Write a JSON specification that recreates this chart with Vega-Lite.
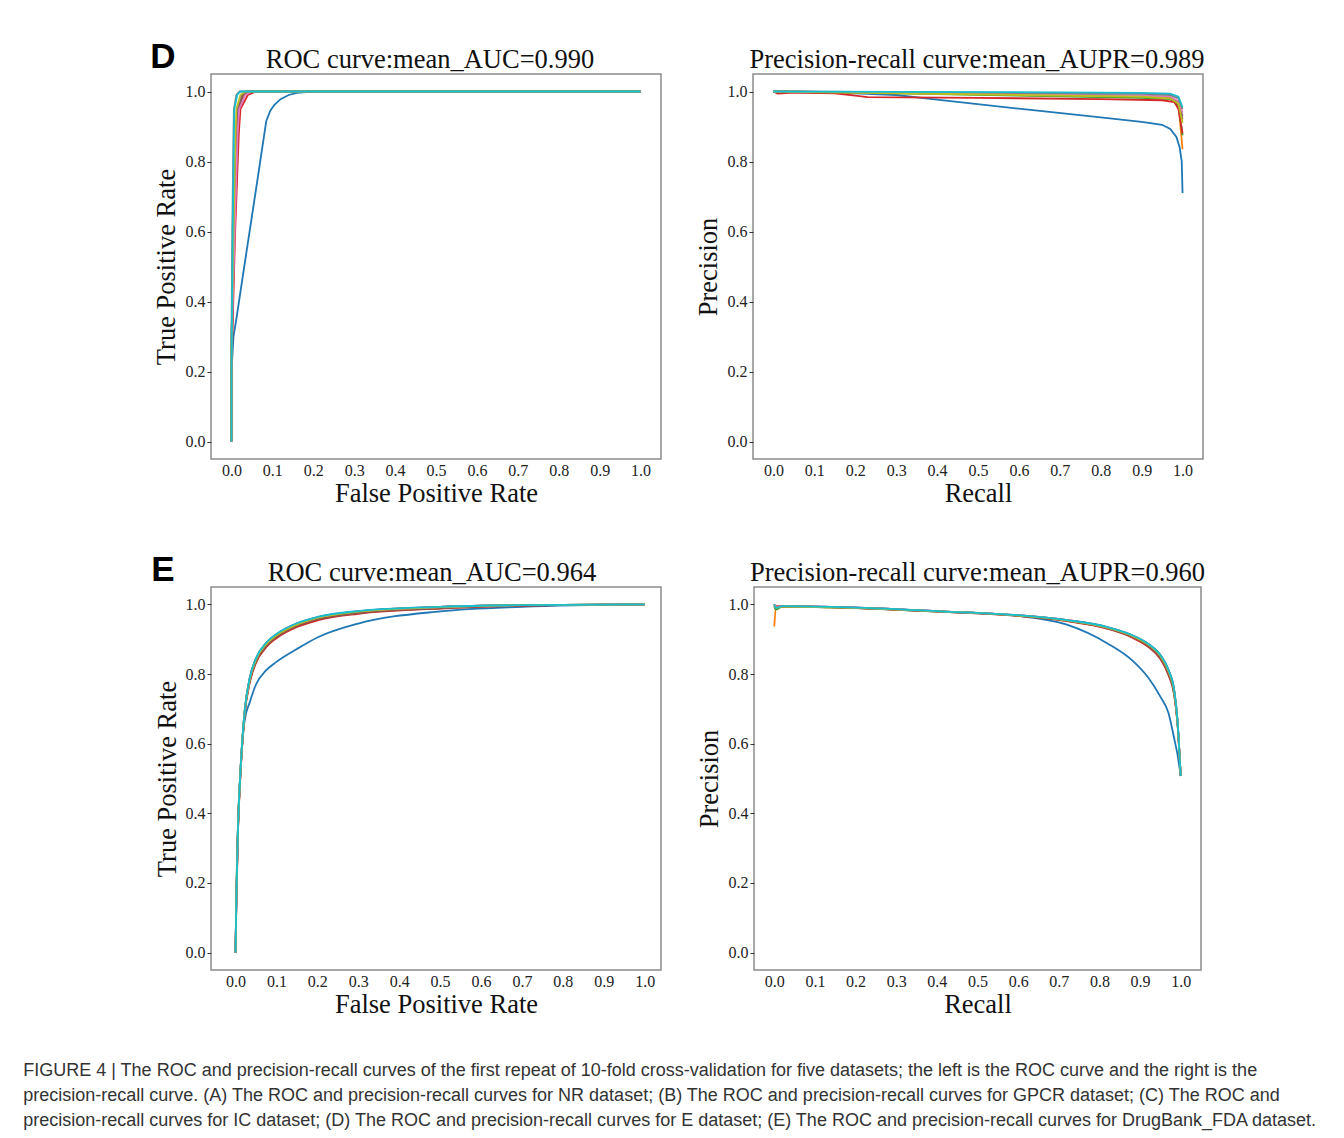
{
  "$schema": "https://vega.github.io/schema/vega-lite/v6.json",
  "padding": {"left": 23, "top": 39, "right": 8, "bottom": 4},
  "background": "white",
  "config": {
    "view": {"stroke": "#8c8c8c", "strokeWidth": 1.5},
    "font": "Liberation Serif",
    "style": {"guide-label": {"font": "Liberation Serif", "fontSize": 16}, "guide-title": {"font": "Liberation Serif", "fontSize": 26.5}},
    "axis": {"grid": false, "domain": false, "labelFont": "Liberation Serif", "labelFontSize": 16, "labelColor": "#222", "titleFont": "Liberation Serif", "titleFontSize": 26.5, "titleFontWeight": "normal", "titleColor": "#111", "tickColor": "#333", "tickSize": 4},
    "axisX": {"ticks": false, "labelPadding": 3, "titlePadding": 2, "labelAngle": 0},
    "axisY": {"labelPadding": 2, "titlePadding": 5},
    "title": {"font": "Liberation Serif", "fontSize": 26.5, "fontWeight": "normal", "color": "#111", "offset": 1},
    "line": {"strokeWidth": 1.8}
  },
  "title": {
    "text": [
      "FIGURE 4 | The ROC and precision-recall curves of the first repeat of 10-fold cross-validation for five datasets; the left is the ROC curve and the right is the",
      "precision-recall curve. (A) The ROC and precision-recall curves for NR dataset; (B) The ROC and precision-recall curves for GPCR dataset; (C) The ROC and",
      "precision-recall curves for IC dataset; (D) The ROC and precision-recall curves for E dataset; (E) The ROC and precision-recall curves for DrugBank_FDA dataset."
    ],
    "orient": "bottom", "anchor": "start", "frame": "bounds",
    "font": "Liberation Sans", "fontSize": 18, "fontWeight": "normal", "color": "#333",
    "lineHeight": 25, "offset": 44, "dx": -127
  },
  "datasets": {
    "dl": [
      {"f":0,"x":0,"y":0},{"f":0,"x":0,"y":0.2},{"f":0,"x":0.005,"y":0.3},{"f":0,"x":0.012,"y":0.35},{"f":0,"x":0.03,"y":0.49},{"f":0,"x":0.06,"y":0.72},{"f":0,"x":0.085,"y":0.915},{"f":0,"x":0.095,"y":0.945},{"f":0,"x":0.105,"y":0.962},{"f":0,"x":0.12,"y":0.978},{"f":0,"x":0.14,"y":0.99},{"f":0,"x":0.16,"y":0.996},{"f":0,"x":0.19,"y":0.999},{"f":0,"x":0.22,"y":1},{"f":0,"x":1,"y":1},
      {"f":1,"x":0,"y":0},{"f":1,"x":0,"y":0.25},{"f":1,"x":0.007,"y":0.6},{"f":1,"x":0.014,"y":0.88},{"f":1,"x":0.018,"y":0.95},{"f":1,"x":0.031,"y":0.99},{"f":1,"x":0.045,"y":1},{"f":1,"x":1,"y":1},
      {"f":2,"x":0,"y":0},{"f":2,"x":0,"y":0.28},{"f":2,"x":0.006,"y":0.6},{"f":2,"x":0.013,"y":0.88},{"f":2,"x":0.016,"y":0.95},{"f":2,"x":0.028,"y":0.99},{"f":2,"x":0.04,"y":1},{"f":2,"x":1,"y":1},
      {"f":3,"x":0,"y":0},{"f":3,"x":0,"y":0.2},{"f":3,"x":0.009,"y":0.6},{"f":3,"x":0.018,"y":0.88},{"f":3,"x":0.022,"y":0.95},{"f":3,"x":0.04,"y":0.99},{"f":3,"x":0.06,"y":1},{"f":3,"x":1,"y":1},
      {"f":4,"x":0,"y":0},{"f":4,"x":0,"y":0.3},{"f":4,"x":0.006,"y":0.6},{"f":4,"x":0.012,"y":0.88},{"f":4,"x":0.015,"y":0.95},{"f":4,"x":0.025,"y":0.99},{"f":4,"x":0.035,"y":1},{"f":4,"x":1,"y":1},
      {"f":5,"x":0,"y":0},{"f":5,"x":0,"y":0.22},{"f":5,"x":0.007,"y":0.6},{"f":5,"x":0.014,"y":0.88},{"f":5,"x":0.017,"y":0.95},{"f":5,"x":0.028,"y":0.99},{"f":5,"x":0.04,"y":1},{"f":5,"x":1,"y":1},
      {"f":6,"x":0,"y":0},{"f":6,"x":0,"y":0.26},{"f":6,"x":0.008,"y":0.6},{"f":6,"x":0.015,"y":0.88},{"f":6,"x":0.019,"y":0.95},{"f":6,"x":0.034,"y":0.99},{"f":6,"x":0.05,"y":1},{"f":6,"x":1,"y":1},
      {"f":7,"x":0,"y":0},{"f":7,"x":0,"y":0.3},{"f":7,"x":0.002,"y":0.6},{"f":7,"x":0.005,"y":0.88},{"f":7,"x":0.006,"y":0.95},{"f":7,"x":0.012,"y":0.99},{"f":7,"x":0.02,"y":1},{"f":7,"x":1,"y":1},
      {"f":8,"x":0,"y":0},{"f":8,"x":0,"y":0.27},{"f":8,"x":0.005,"y":0.6},{"f":8,"x":0.01,"y":0.88},{"f":8,"x":0.012,"y":0.95},{"f":8,"x":0.022,"y":0.99},{"f":8,"x":0.035,"y":1},{"f":8,"x":1,"y":1},
      {"f":9,"x":0,"y":0},{"f":9,"x":0,"y":0.2},{"f":9,"x":0.003,"y":0.6},{"f":9,"x":0.006,"y":0.88},{"f":9,"x":0.007,"y":0.95},{"f":9,"x":0.014,"y":0.99},{"f":9,"x":0.022,"y":1},{"f":9,"x":1,"y":1}
    ],
    "dr": [
      {"f":0,"x":0,"y":1},{"f":0,"x":0.2,"y":0.995},{"f":0,"x":0.3,"y":0.99},{"f":0,"x":0.4,"y":0.977},{"f":0,"x":0.6,"y":0.951},{"f":0,"x":0.8,"y":0.926},{"f":0,"x":0.9,"y":0.913},{"f":0,"x":0.95,"y":0.905},{"f":0,"x":0.97,"y":0.893},{"f":0,"x":0.985,"y":0.87},{"f":0,"x":0.993,"y":0.84},{"f":0,"x":0.998,"y":0.8},{"f":0,"x":1,"y":0.71},
      {"f":1,"x":0,"y":1},{"f":1,"x":0.3,"y":0.996},{"f":1,"x":0.6,"y":0.99},{"f":1,"x":0.9,"y":0.984},{"f":1,"x":0.97,"y":0.98},{"f":1,"x":0.99,"y":0.965},{"f":1,"x":1,"y":0.835},
      {"f":2,"x":0,"y":1},{"f":2,"x":0.3,"y":0.995},{"f":2,"x":0.6,"y":0.988},{"f":2,"x":0.9,"y":0.982},{"f":2,"x":0.97,"y":0.978},{"f":2,"x":0.99,"y":0.96},{"f":2,"x":1,"y":0.875},
      {"f":3,"x":0,"y":1},{"f":3,"x":0.01,"y":0.994},{"f":3,"x":0.05,"y":0.997},{"f":3,"x":0.15,"y":0.995},{"f":3,"x":0.2,"y":0.988},{"f":3,"x":0.23,"y":0.984},{"f":3,"x":0.5,"y":0.982},{"f":3,"x":0.8,"y":0.978},{"f":3,"x":0.95,"y":0.975},{"f":3,"x":0.98,"y":0.97},{"f":3,"x":0.99,"y":0.95},{"f":3,"x":1,"y":0.88},
      {"f":4,"x":0,"y":1},{"f":4,"x":0.3,"y":0.997},{"f":4,"x":0.6,"y":0.993},{"f":4,"x":0.9,"y":0.988},{"f":4,"x":0.97,"y":0.984},{"f":4,"x":0.99,"y":0.97},{"f":4,"x":1,"y":0.93},
      {"f":5,"x":0,"y":1},{"f":5,"x":0.3,"y":0.996},{"f":5,"x":0.6,"y":0.991},{"f":5,"x":0.9,"y":0.987},{"f":5,"x":0.97,"y":0.983},{"f":5,"x":0.99,"y":0.968},{"f":5,"x":1,"y":0.92},
      {"f":6,"x":0,"y":1},{"f":6,"x":0.3,"y":0.997},{"f":6,"x":0.6,"y":0.992},{"f":6,"x":0.9,"y":0.988},{"f":6,"x":0.97,"y":0.985},{"f":6,"x":0.99,"y":0.972},{"f":6,"x":1,"y":0.94},
      {"f":7,"x":0,"y":1},{"f":7,"x":0.3,"y":0.998},{"f":7,"x":0.6,"y":0.996},{"f":7,"x":0.9,"y":0.993},{"f":7,"x":0.97,"y":0.99},{"f":7,"x":0.99,"y":0.98},{"f":7,"x":1,"y":0.95},
      {"f":8,"x":0,"y":1},{"f":8,"x":0.3,"y":0.995},{"f":8,"x":0.6,"y":0.99},{"f":8,"x":0.9,"y":0.985},{"f":8,"x":0.97,"y":0.98},{"f":8,"x":0.99,"y":0.965},{"f":8,"x":1,"y":0.91},
      {"f":9,"x":0,"y":1},{"f":9,"x":0.3,"y":0.999},{"f":9,"x":0.6,"y":0.998},{"f":9,"x":0.9,"y":0.996},{"f":9,"x":0.97,"y":0.994},{"f":9,"x":0.99,"y":0.985},{"f":9,"x":1,"y":0.955}
    ],
    "el": [
      {"f":0,"x":0,"y":0},{"f":0,"x":0.002,"y":0.16},{"f":0,"x":0.006,"y":0.36},{"f":0,"x":0.012,"y":0.52},{"f":0,"x":0.022,"y":0.665},{"f":0,"x":0.035,"y":0.72},{"f":0,"x":0.05,"y":0.77},{"f":0,"x":0.075,"y":0.811},{"f":0,"x":0.1,"y":0.835},{"f":0,"x":0.15,"y":0.872},{"f":0,"x":0.2,"y":0.905},{"f":0,"x":0.3,"y":0.945},{"f":0,"x":0.5,"y":0.98},{"f":0,"x":0.7,"y":0.993},{"f":0,"x":1,"y":1},
      {"f":1,"x":0,"y":0},{"f":1,"x":0.002,"y":0.15},{"f":1,"x":0.006,"y":0.35},{"f":1,"x":0.012,"y":0.515},{"f":1,"x":0.022,"y":0.685},{"f":1,"x":0.035,"y":0.785},{"f":1,"x":0.05,"y":0.84},{"f":1,"x":0.075,"y":0.886},{"f":1,"x":0.1,"y":0.912},{"f":1,"x":0.15,"y":0.943},{"f":1,"x":0.2,"y":0.962},{"f":1,"x":0.3,"y":0.979},{"f":1,"x":0.5,"y":0.992},{"f":1,"x":0.7,"y":0.998},{"f":1,"x":1,"y":1},
      {"f":2,"x":0,"y":0},{"f":2,"x":0.002,"y":0.17},{"f":2,"x":0.006,"y":0.37},{"f":2,"x":0.012,"y":0.525},{"f":2,"x":0.022,"y":0.69},{"f":2,"x":0.035,"y":0.79},{"f":2,"x":0.05,"y":0.843},{"f":2,"x":0.075,"y":0.888},{"f":2,"x":0.1,"y":0.913},{"f":2,"x":0.15,"y":0.944},{"f":2,"x":0.2,"y":0.962},{"f":2,"x":0.3,"y":0.98},{"f":2,"x":0.5,"y":0.992},{"f":2,"x":0.7,"y":0.998},{"f":2,"x":1,"y":1},
      {"f":3,"x":0,"y":0},{"f":3,"x":0.002,"y":0.15},{"f":3,"x":0.006,"y":0.35},{"f":3,"x":0.012,"y":0.51},{"f":3,"x":0.022,"y":0.68},{"f":3,"x":0.035,"y":0.777},{"f":3,"x":0.05,"y":0.832},{"f":3,"x":0.075,"y":0.877},{"f":3,"x":0.1,"y":0.903},{"f":3,"x":0.15,"y":0.935},{"f":3,"x":0.2,"y":0.954},{"f":3,"x":0.3,"y":0.973},{"f":3,"x":0.5,"y":0.988},{"f":3,"x":0.7,"y":0.996},{"f":3,"x":1,"y":1},
      {"f":4,"x":0,"y":0},{"f":4,"x":0.002,"y":0.16},{"f":4,"x":0.006,"y":0.36},{"f":4,"x":0.012,"y":0.52},{"f":4,"x":0.022,"y":0.688},{"f":4,"x":0.035,"y":0.788},{"f":4,"x":0.05,"y":0.843},{"f":4,"x":0.075,"y":0.888},{"f":4,"x":0.1,"y":0.914},{"f":4,"x":0.15,"y":0.945},{"f":4,"x":0.2,"y":0.963},{"f":4,"x":0.3,"y":0.98},{"f":4,"x":0.5,"y":0.993},{"f":4,"x":0.7,"y":0.998},{"f":4,"x":1,"y":1},
      {"f":5,"x":0,"y":0},{"f":5,"x":0.002,"y":0.155},{"f":5,"x":0.006,"y":0.355},{"f":5,"x":0.012,"y":0.512},{"f":5,"x":0.022,"y":0.682},{"f":5,"x":0.035,"y":0.78},{"f":5,"x":0.05,"y":0.835},{"f":5,"x":0.075,"y":0.88},{"f":5,"x":0.1,"y":0.906},{"f":5,"x":0.15,"y":0.938},{"f":5,"x":0.2,"y":0.957},{"f":5,"x":0.3,"y":0.975},{"f":5,"x":0.5,"y":0.989},{"f":5,"x":0.7,"y":0.997},{"f":5,"x":1,"y":1},
      {"f":6,"x":0,"y":0},{"f":6,"x":0.002,"y":0.16},{"f":6,"x":0.006,"y":0.36},{"f":6,"x":0.012,"y":0.52},{"f":6,"x":0.022,"y":0.69},{"f":6,"x":0.035,"y":0.789},{"f":6,"x":0.05,"y":0.844},{"f":6,"x":0.075,"y":0.889},{"f":6,"x":0.1,"y":0.914},{"f":6,"x":0.15,"y":0.945},{"f":6,"x":0.2,"y":0.963},{"f":6,"x":0.3,"y":0.98},{"f":6,"x":0.5,"y":0.992},{"f":6,"x":0.7,"y":0.998},{"f":6,"x":1,"y":1},
      {"f":7,"x":0,"y":0},{"f":7,"x":0.002,"y":0.165},{"f":7,"x":0.006,"y":0.365},{"f":7,"x":0.012,"y":0.522},{"f":7,"x":0.022,"y":0.691},{"f":7,"x":0.035,"y":0.79},{"f":7,"x":0.05,"y":0.845},{"f":7,"x":0.075,"y":0.889},{"f":7,"x":0.1,"y":0.914},{"f":7,"x":0.15,"y":0.945},{"f":7,"x":0.2,"y":0.963},{"f":7,"x":0.3,"y":0.98},{"f":7,"x":0.5,"y":0.993},{"f":7,"x":0.7,"y":0.998},{"f":7,"x":1,"y":1},
      {"f":8,"x":0,"y":0},{"f":8,"x":0.002,"y":0.16},{"f":8,"x":0.006,"y":0.36},{"f":8,"x":0.012,"y":0.518},{"f":8,"x":0.022,"y":0.687},{"f":8,"x":0.035,"y":0.786},{"f":8,"x":0.05,"y":0.841},{"f":8,"x":0.075,"y":0.886},{"f":8,"x":0.1,"y":0.911},{"f":8,"x":0.15,"y":0.942},{"f":8,"x":0.2,"y":0.961},{"f":8,"x":0.3,"y":0.979},{"f":8,"x":0.5,"y":0.992},{"f":8,"x":0.7,"y":0.998},{"f":8,"x":1,"y":1},
      {"f":9,"x":0,"y":0},{"f":9,"x":0.002,"y":0.16},{"f":9,"x":0.006,"y":0.36},{"f":9,"x":0.012,"y":0.52},{"f":9,"x":0.022,"y":0.69},{"f":9,"x":0.035,"y":0.79},{"f":9,"x":0.05,"y":0.845},{"f":9,"x":0.075,"y":0.89},{"f":9,"x":0.1,"y":0.915},{"f":9,"x":0.15,"y":0.946},{"f":9,"x":0.2,"y":0.964},{"f":9,"x":0.3,"y":0.981},{"f":9,"x":0.5,"y":0.993},{"f":9,"x":0.7,"y":0.998},{"f":9,"x":1,"y":1}
    ],
    "er": [
      {"f":0,"x":0,"y":1},{"f":0,"x":0.004,"y":0.99},{"f":0,"x":0.02,"y":0.995},{"f":0,"x":0.165,"y":0.992},{"f":0,"x":0.41,"y":0.98},{"f":0,"x":0.6,"y":0.967},{"f":0,"x":0.72,"y":0.942},{"f":0,"x":0.82,"y":0.888},{"f":0,"x":0.88,"y":0.84},{"f":0,"x":0.92,"y":0.79},{"f":0,"x":0.95,"y":0.735},{"f":0,"x":0.97,"y":0.688},{"f":0,"x":0.984,"y":0.615},{"f":0,"x":0.992,"y":0.57},{"f":0,"x":1,"y":0.507},
      {"f":1,"x":0,"y":0.937},{"f":1,"x":0.004,"y":0.99},{"f":1,"x":0.02,"y":0.994},{"f":1,"x":0.165,"y":0.991},{"f":1,"x":0.41,"y":0.98},{"f":1,"x":0.6,"y":0.968},{"f":1,"x":0.72,"y":0.954},{"f":1,"x":0.82,"y":0.933},{"f":1,"x":0.88,"y":0.91},{"f":1,"x":0.92,"y":0.884},{"f":1,"x":0.95,"y":0.851},{"f":1,"x":0.97,"y":0.806},{"f":1,"x":0.984,"y":0.747},{"f":1,"x":0.992,"y":0.662},{"f":1,"x":1,"y":0.507},
      {"f":2,"x":0,"y":0.995},{"f":2,"x":0.004,"y":0.985},{"f":2,"x":0.02,"y":0.994},{"f":2,"x":0.165,"y":0.991},{"f":2,"x":0.41,"y":0.979},{"f":2,"x":0.6,"y":0.968},{"f":2,"x":0.72,"y":0.954},{"f":2,"x":0.82,"y":0.934},{"f":2,"x":0.88,"y":0.911},{"f":2,"x":0.92,"y":0.886},{"f":2,"x":0.95,"y":0.853},{"f":2,"x":0.97,"y":0.81},{"f":2,"x":0.984,"y":0.75},{"f":2,"x":0.992,"y":0.665},{"f":2,"x":1,"y":0.507},
      {"f":3,"x":0,"y":0.99},{"f":3,"x":0.004,"y":0.995},{"f":3,"x":0.02,"y":0.995},{"f":3,"x":0.165,"y":0.991},{"f":3,"x":0.41,"y":0.979},{"f":3,"x":0.6,"y":0.967},{"f":3,"x":0.72,"y":0.952},{"f":3,"x":0.82,"y":0.93},{"f":3,"x":0.88,"y":0.905},{"f":3,"x":0.92,"y":0.878},{"f":3,"x":0.95,"y":0.843},{"f":3,"x":0.97,"y":0.797},{"f":3,"x":0.984,"y":0.74},{"f":3,"x":0.992,"y":0.66},{"f":3,"x":1,"y":0.507},
      {"f":4,"x":0,"y":1},{"f":4,"x":0.004,"y":0.99},{"f":4,"x":0.02,"y":0.995},{"f":4,"x":0.165,"y":0.992},{"f":4,"x":0.41,"y":0.98},{"f":4,"x":0.6,"y":0.969},{"f":4,"x":0.72,"y":0.955},{"f":4,"x":0.82,"y":0.934},{"f":4,"x":0.88,"y":0.911},{"f":4,"x":0.92,"y":0.886},{"f":4,"x":0.95,"y":0.854},{"f":4,"x":0.97,"y":0.81},{"f":4,"x":0.984,"y":0.752},{"f":4,"x":0.992,"y":0.668},{"f":4,"x":1,"y":0.507},
      {"f":5,"x":0,"y":0.99},{"f":5,"x":0.004,"y":0.993},{"f":5,"x":0.02,"y":0.994},{"f":5,"x":0.165,"y":0.991},{"f":5,"x":0.41,"y":0.979},{"f":5,"x":0.6,"y":0.967},{"f":5,"x":0.72,"y":0.953},{"f":5,"x":0.82,"y":0.931},{"f":5,"x":0.88,"y":0.907},{"f":5,"x":0.92,"y":0.88},{"f":5,"x":0.95,"y":0.846},{"f":5,"x":0.97,"y":0.8},{"f":5,"x":0.984,"y":0.742},{"f":5,"x":0.992,"y":0.661},{"f":5,"x":1,"y":0.507},
      {"f":6,"x":0,"y":1},{"f":6,"x":0.004,"y":0.992},{"f":6,"x":0.02,"y":0.995},{"f":6,"x":0.165,"y":0.992},{"f":6,"x":0.41,"y":0.98},{"f":6,"x":0.6,"y":0.969},{"f":6,"x":0.72,"y":0.955},{"f":6,"x":0.82,"y":0.934},{"f":6,"x":0.88,"y":0.911},{"f":6,"x":0.92,"y":0.886},{"f":6,"x":0.95,"y":0.854},{"f":6,"x":0.97,"y":0.811},{"f":6,"x":0.984,"y":0.753},{"f":6,"x":0.992,"y":0.669},{"f":6,"x":1,"y":0.507},
      {"f":7,"x":0,"y":1},{"f":7,"x":0.004,"y":0.99},{"f":7,"x":0.02,"y":0.995},{"f":7,"x":0.165,"y":0.992},{"f":7,"x":0.41,"y":0.98},{"f":7,"x":0.6,"y":0.969},{"f":7,"x":0.72,"y":0.955},{"f":7,"x":0.82,"y":0.935},{"f":7,"x":0.88,"y":0.912},{"f":7,"x":0.92,"y":0.887},{"f":7,"x":0.95,"y":0.855},{"f":7,"x":0.97,"y":0.812},{"f":7,"x":0.984,"y":0.754},{"f":7,"x":0.992,"y":0.67},{"f":7,"x":1,"y":0.507},
      {"f":8,"x":0,"y":0.998},{"f":8,"x":0.004,"y":0.99},{"f":8,"x":0.02,"y":0.994},{"f":8,"x":0.165,"y":0.991},{"f":8,"x":0.41,"y":0.98},{"f":8,"x":0.6,"y":0.968},{"f":8,"x":0.72,"y":0.954},{"f":8,"x":0.82,"y":0.933},{"f":8,"x":0.88,"y":0.91},{"f":8,"x":0.92,"y":0.885},{"f":8,"x":0.95,"y":0.852},{"f":8,"x":0.97,"y":0.808},{"f":8,"x":0.984,"y":0.75},{"f":8,"x":0.992,"y":0.666},{"f":8,"x":1,"y":0.507},
      {"f":9,"x":0,"y":1},{"f":9,"x":0.004,"y":0.99},{"f":9,"x":0.02,"y":0.995},{"f":9,"x":0.165,"y":0.992},{"f":9,"x":0.41,"y":0.98},{"f":9,"x":0.6,"y":0.969},{"f":9,"x":0.72,"y":0.955},{"f":9,"x":0.82,"y":0.935},{"f":9,"x":0.88,"y":0.912},{"f":9,"x":0.92,"y":0.887},{"f":9,"x":0.95,"y":0.855},{"f":9,"x":0.97,"y":0.812},{"f":9,"x":0.984,"y":0.754},{"f":9,"x":0.992,"y":0.67},{"f":9,"x":1,"y":0.507}
    ]
  },
  "spacing": 44,
  "vconcat": [
    {
      "title": {"text": "D", "anchor": "start", "frame": "bounds", "font": "Liberation Sans", "fontSize": 35, "fontWeight": "bold", "color": "#000", "offset": -29, "dx": -2},
      "spacing": 32,
      "hconcat": [
        {
          "width": 450, "height": 385,
          "title": {"text": "ROC curve:mean_AUC=0.990", "dx": -6},
          "data": {"name": "dl"},
          "mark": {"type": "line", "strokeWidth": 1.8},
          "encoding": {
            "x": {"field": "x", "type": "quantitative", "scale": {"domain": [-0.05, 1.05], "nice": false, "zero": false}, "axis": {"values": [0, 0.1, 0.2, 0.3, 0.4, 0.5, 0.6, 0.7, 0.8, 0.9, 1], "format": ".1f", "title": "False Positive Rate", "labelFont": "Liberation Serif", "labelFontSize": 16}},
            "y": {"field": "y", "type": "quantitative", "scale": {"domain": [-0.05, 1.05], "nice": false, "zero": false}, "axis": {"values": [0, 0.2, 0.4, 0.6, 0.8, 1], "format": ".1f", "title": "True Positive Rate", "labelFont": "Liberation Serif", "labelFontSize": 16, "titlePadding": 5}},
            "color": {"field": "f", "type": "nominal", "scale": {"scheme": "category10"}, "legend": null},
            "order": {"value": null}
          }
        },
        {
          "width": 450, "height": 385,
          "title": {"text": "Precision-recall curve:mean_AUPR=0.989", "dx": -1},
          "data": {"name": "dr"},
          "mark": {"type": "line", "strokeWidth": 1.8},
          "encoding": {
            "x": {"field": "x", "type": "quantitative", "scale": {"domain": [-0.05, 1.05], "nice": false, "zero": false}, "axis": {"values": [0, 0.1, 0.2, 0.3, 0.4, 0.5, 0.6, 0.7, 0.8, 0.9, 1], "format": ".1f", "title": "Recall", "labelFont": "Liberation Serif", "labelFontSize": 16}},
            "y": {"field": "y", "type": "quantitative", "scale": {"domain": [-0.05, 1.05], "nice": false, "zero": false}, "axis": {"values": [0, 0.2, 0.4, 0.6, 0.8, 1], "format": ".1f", "title": "Precision", "labelFont": "Liberation Serif", "labelFontSize": 16, "titlePadding": 5}},
            "color": {"field": "f", "type": "nominal", "scale": {"scheme": "category10"}, "legend": null},
            "order": {"value": null}
          }
        }
      ]
    },
    {
      "title": {"text": "E", "anchor": "start", "frame": "bounds", "font": "Liberation Sans", "fontSize": 35, "fontWeight": "bold", "color": "#000", "offset": -29, "dx": -2},
      "spacing": 33,
      "hconcat": [
        {
          "width": 450, "height": 383,
          "title": {"text": "ROC curve:mean_AUC=0.964", "dx": -4},
          "data": {"name": "el"},
          "mark": {"type": "line", "strokeWidth": 1.8, "interpolate": "monotone"},
          "encoding": {
            "x": {"field": "x", "type": "quantitative", "scale": {"domain": [-0.06, 1.04], "nice": false, "zero": false}, "axis": {"values": [0, 0.1, 0.2, 0.3, 0.4, 0.5, 0.6, 0.7, 0.8, 0.9, 1], "format": ".1f", "title": "False Positive Rate", "labelFont": "Liberation Serif", "labelFontSize": 16}},
            "y": {"field": "y", "type": "quantitative", "scale": {"domain": [-0.05, 1.05], "nice": false, "zero": false}, "axis": {"values": [0, 0.2, 0.4, 0.6, 0.8, 1], "format": ".1f", "title": "True Positive Rate", "labelFont": "Liberation Serif", "labelFontSize": 16, "titlePadding": 4}},
            "color": {"field": "f", "type": "nominal", "scale": {"scheme": "category10"}, "legend": null},
            "order": {"value": null}
          }
        },
        {
          "width": 447, "height": 383,
          "title": "Precision-recall curve:mean_AUPR=0.960",
          "data": {"name": "er"},
          "mark": {"type": "line", "strokeWidth": 1.8, "interpolate": "monotone"},
          "encoding": {
            "x": {"field": "x", "type": "quantitative", "scale": {"domain": [-0.05, 1.05], "nice": false, "zero": false}, "axis": {"values": [0, 0.1, 0.2, 0.3, 0.4, 0.5, 0.6, 0.7, 0.8, 0.9, 1], "format": ".1f", "title": "Recall", "labelFont": "Liberation Serif", "labelFontSize": 16}},
            "y": {"field": "y", "type": "quantitative", "scale": {"domain": [-0.05, 1.05], "nice": false, "zero": false}, "axis": {"values": [0, 0.2, 0.4, 0.6, 0.8, 1], "format": ".1f", "title": "Precision", "labelFont": "Liberation Serif", "labelFontSize": 16, "titlePadding": 5}},
            "color": {"field": "f", "type": "nominal", "scale": {"scheme": "category10"}, "legend": null},
            "order": {"value": null}
          }
        }
      ]
    }
  ]
}
